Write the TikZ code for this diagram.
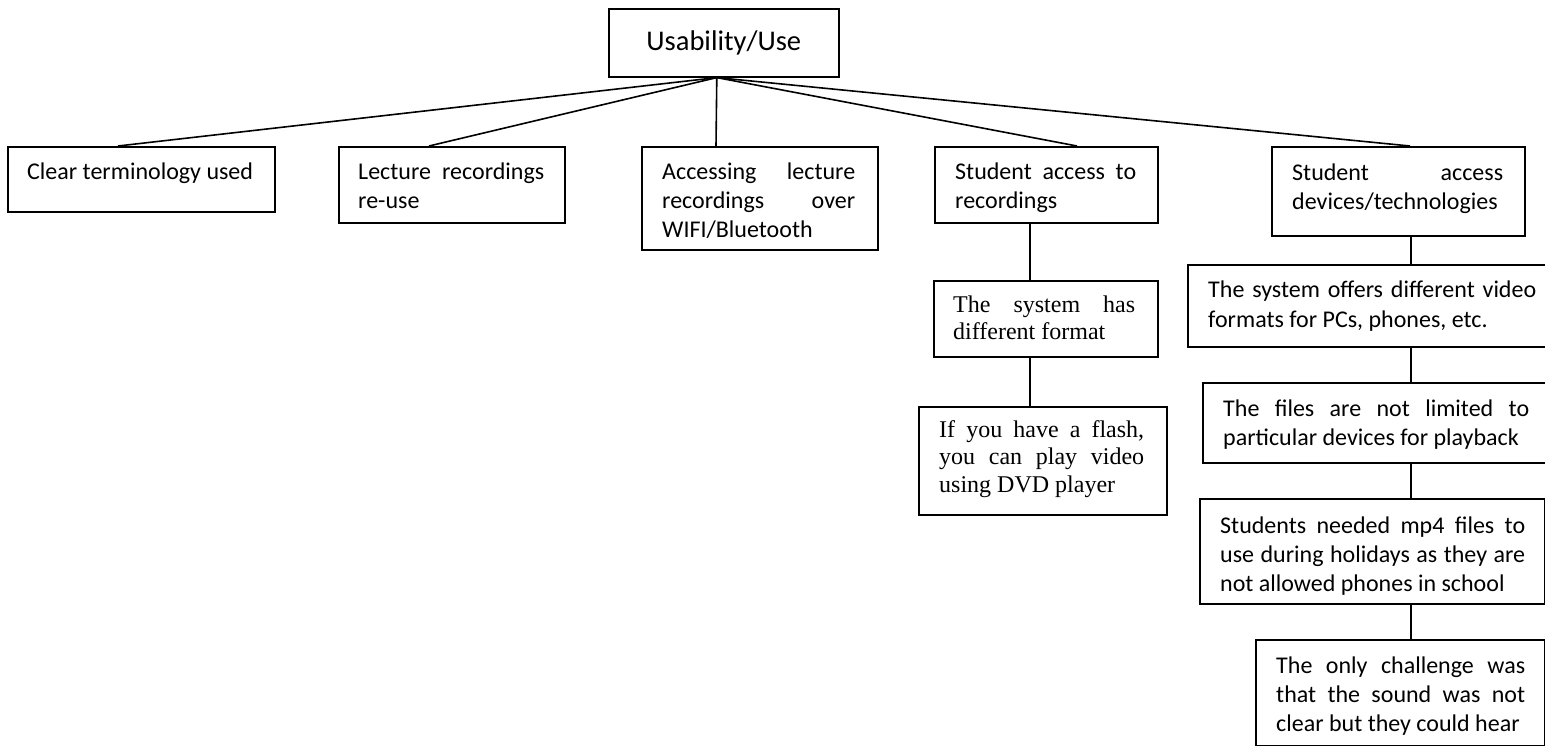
\documentclass[tikz,border=0pt]{standalone}
\usepackage{fontspec}
\setmainfont{Carlito}[HyphenChar=None]
\newfontfamily\gara{Liberation Serif}[HyphenChar=None]
\begin{document}
\tolerance=10000
\begin{tikzpicture}[x=1pt,y=-1pt,
  box/.style={draw, line width=1.6pt, inner sep=0pt, anchor=north west},
  txt/.style={anchor=base west, inner sep=0pt, align=justify,
    font=\fontsize{24}{29}\selectfont},
  serif/.style={font=\gara\fontsize{24}{27.5}\selectfont},
  link/.style={line width=1.6pt}]
\useasboundingbox (0,0) rectangle (1545,746);

% root
\node[box, minimum width=230pt, minimum height=68pt,
      font=\fontsize{28.5}{34}\selectfont] (root) at (608,8) {Usability/Use};

% first level
\node[box, minimum width=267pt, minimum height=65pt]  (b1) at (7,146) {};
\node[box, minimum width=226pt, minimum height=76pt]  (b2) at (338,146) {};
\node[box, minimum width=236pt, minimum height=103pt] (b3) at (641,146) {};
\node[box, minimum width=223pt, minimum height=76pt]  (b4) at (934,146) {};
\node[box, minimum width=253pt, minimum height=89pt]  (b5) at (1271,146) {};

\node[txt, text width=230pt] at (27,180) {Clear terminology used};
\node[txt, text width=186pt] at (358,180) {Lecture recordings re-use};
\node[txt, text width=193pt] at (662,180) {Accessing lecture recordings over WIFI/Bluetooth};
\node[txt, text width=181pt] at (955,180) {Student access to recordings};
\node[txt, text width=211pt] at (1292,181) {Student access devices/technologies};

% branch under "Student access to recordings"
\node[box, minimum width=224pt, minimum height=76pt]  (c1) at (933,280) {};
\node[box, minimum width=248pt, minimum height=108pt] (c2) at (918,406) {};
\node[txt, serif, text width=182pt] at (953,312) {The system has different format};
\node[txt, serif, text width=205pt] at (939,437) {If you have a flash, you can play video using DVD player};

% branch under "Student access devices/technologies"
\node[box, minimum width=370pt, minimum height=82pt]  (d1) at (1187,264) {};
\node[box, minimum width=360pt, minimum height=80pt]  (d2) at (1202,382) {};
\node[box, minimum width=345pt, minimum height=105pt] (d3) at (1199,498) {};
\node[box, minimum width=289pt, minimum height=106pt] (d4) at (1255,639) {};
\node[txt, text width=328pt] at (1208,298) {The system offers different video formats for PCs, phones, etc.};
\node[txt, text width=306pt] at (1223,416) {The files are not limited to particular devices for playback};
\node[txt, text width=305pt] at (1220,533) {Students needed mp4 files to use during holidays as they are not allowed phones in school};
\node[txt, text width=249pt] at (1276,673) {The only challenge was that the sound was not clear but they could hear};

% connectors
\draw[link] ([xshift=-7pt]root.south) -- ([xshift=111pt]b1.north west);
\draw[link] ([xshift=-7pt]root.south) -- ([xshift=91pt]b2.north west);
\draw[link] ([xshift=-7pt]root.south) -- ([xshift=75pt]b3.north west);
\draw[link] ([xshift=-7pt]root.south) -- ([xshift=143pt]b4.north west);
\draw[link] ([xshift=-7pt]root.south) -- ([xshift=139pt]b5.north west);

\draw[link] ([xshift=96pt]b4.south west) -- ([xshift=97pt]c1.north west);
\draw[link] ([xshift=97pt]c1.south west) -- ([xshift=112pt]c2.north west);

\draw[link] ([xshift=140pt]b5.south west) -- ([xshift=224pt]d1.north west);
\draw[link] ([xshift=224pt]d1.south west) -- ([xshift=209pt]d2.north west);
\draw[link] ([xshift=209pt]d2.south west) -- ([xshift=212pt]d3.north west);
\draw[link] ([xshift=212pt]d3.south west) -- ([xshift=156pt]d4.north west);
\end{tikzpicture}
\end{document}
